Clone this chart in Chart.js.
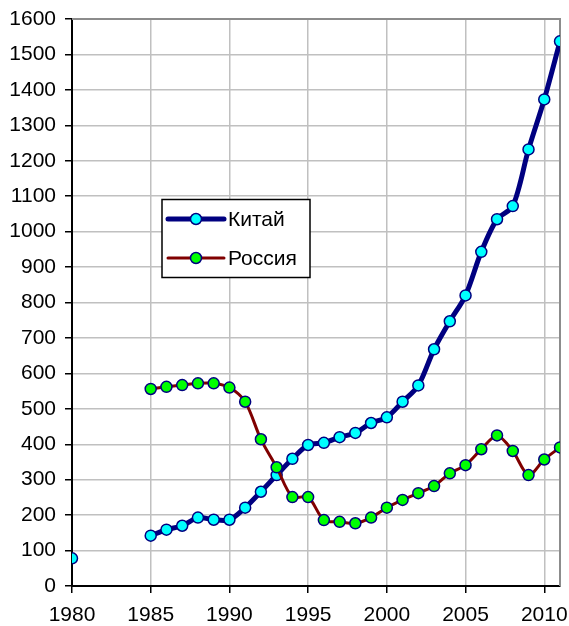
<!DOCTYPE html>
<html>
<head>
<meta charset="utf-8">
<script src="https://cdn.jsdelivr.net/npm/chart.js@4"></script>
<style>
html,body{margin:0;padding:0;background:#fff;}
#wrap{position:relative;width:569px;height:626px;}
</style>
</head>
<body>
<div id="wrap"><canvas id="c" width="569" height="626"></canvas></div>
<script>
const years = [1980,1981,1982,1983,1984,1985,1986,1987,1988,1989,1990,1991,1992,1993,1994,1995,1996,1997,1998,1999,2000,2001,2002,2003,2004,2005,2006,2007,2008,2009,2010,2011];
const chinaValues = [78,null,null,null,null,142,159,170,193,187,187,221,266,313,359,398,404,420,432,460,476,520,566,668,747,820,943,1035,1072,1232,1373,1537];
const russiaValues = [null,null,null,null,null,556,562,567,572,572,560,520,414,335,251,251,186,181,177,193,221,243,262,282,318,341,386,425,381,313,357,391];
const seriesNames = ['Китай','Россия'];
const xTicks = {min:1980, max:2011, step:5};
const yTicks = {min:0, max:1600, step:100};

const toPts = arr => years.map((y,i)=>({x:y, y:arr[i]}));
const FONT = "'Liberation Sans', Arial, sans-serif";

const styles = [
  {line:'#000080', width:5, fill:'#00ffff', border:'#000080'},
  {line:'#800000', width:3, fill:'#00ff00', border:'#000080'}
];

const legendPlugin = {
  id:'boxLegend',
  afterDraw(chart){
    const ctx = chart.ctx;
    ctx.save();
    const bx=162, by=199.5, bw=148, bh=78;
    ctx.fillStyle='#fff';
    ctx.fillRect(bx,by,bw,bh);
    ctx.strokeStyle='#000';
    ctx.lineWidth=1.5;
    ctx.strokeRect(bx,by,bw,bh);
    const rows=[219,258];
    seriesNames.forEach((name,i)=>{
      const s=styles[i], yy=rows[i];
      ctx.strokeStyle=s.line; ctx.lineWidth=s.width; ctx.lineCap='round';
      ctx.beginPath(); ctx.moveTo(168,yy); ctx.lineTo(224,yy); ctx.stroke();
      ctx.beginPath(); ctx.arc(196,yy,5.5,0,Math.PI*2);
      ctx.fillStyle=s.fill; ctx.fill();
      ctx.lineWidth=1.5; ctx.strokeStyle=s.border; ctx.stroke();
      ctx.fillStyle='#000'; ctx.font='21px '+FONT;
      ctx.textBaseline='middle'; ctx.textAlign='left';
      ctx.fillText(name,228,yy+1);
    });
    ctx.restore();
  },
  beforeDatasetsDraw(chart){
    const {ctx, chartArea:a} = chart;
    ctx.save();
    ctx.strokeStyle='#8c8c8c'; ctx.lineWidth=2;
    ctx.beginPath();
    ctx.moveTo(a.left,a.top); ctx.lineTo(a.right,a.top); ctx.lineTo(a.right,a.bottom);
    ctx.stroke();
    ctx.restore();
  }
};

new Chart(document.getElementById('c'), {
  type:'line',
  data:{
    datasets:[
      {label:seriesNames[0], data:toPts(chinaValues), borderColor:styles[0].line, borderWidth:styles[0].width,
       pointBackgroundColor:styles[0].fill, pointBorderColor:styles[0].border, pointBorderWidth:1.5, pointRadius:5.5,
       tension:0.3, order:2, spanGaps:false},
      {label:seriesNames[1], data:toPts(russiaValues), borderColor:styles[1].line, borderWidth:styles[1].width,
       pointBackgroundColor:styles[1].fill, pointBorderColor:styles[1].border, pointBorderWidth:1.5, pointRadius:5.5,
       tension:0.3, order:1, spanGaps:false}
    ]
  },
  options:{
    responsive:false, animation:false,
    layout:{padding:{top:19,right:9,left:0,bottom:0}},
    plugins:{legend:{display:false}, tooltip:{enabled:false}},
    scales:{
      x:{type:'linear', min:xTicks.min, max:xTicks.max,
         ticks:{stepSize:xTicks.step, includeBounds:false, color:'#000', font:{family:FONT,size:21}, padding:10, maxRotation:0,
                callback:v=>String(v)},
         grid:{color:'#c0c0c0', lineWidth:1.5, tickColor:'#000', tickLength:7, drawTicks:true},
         border:{color:'#000', width:2},
         afterFit(s){s.height=40; s.paddingLeft=0; s.paddingRight=0;}
      },
      y:{min:yTicks.min, max:yTicks.max,
         ticks:{stepSize:yTicks.step, color:'#000', font:{family:FONT,size:21}, padding:9, callback:v=>String(v)},
         grid:{color:'#c0c0c0', lineWidth:1.5, tickColor:'#000', tickLength:7},
         border:{color:'#000', width:2},
         afterFit(s){s.width=72; s.paddingTop=0; s.paddingBottom=0;}
      }
    }
  },
  plugins:[legendPlugin]
});
</script>
</body>
</html>
